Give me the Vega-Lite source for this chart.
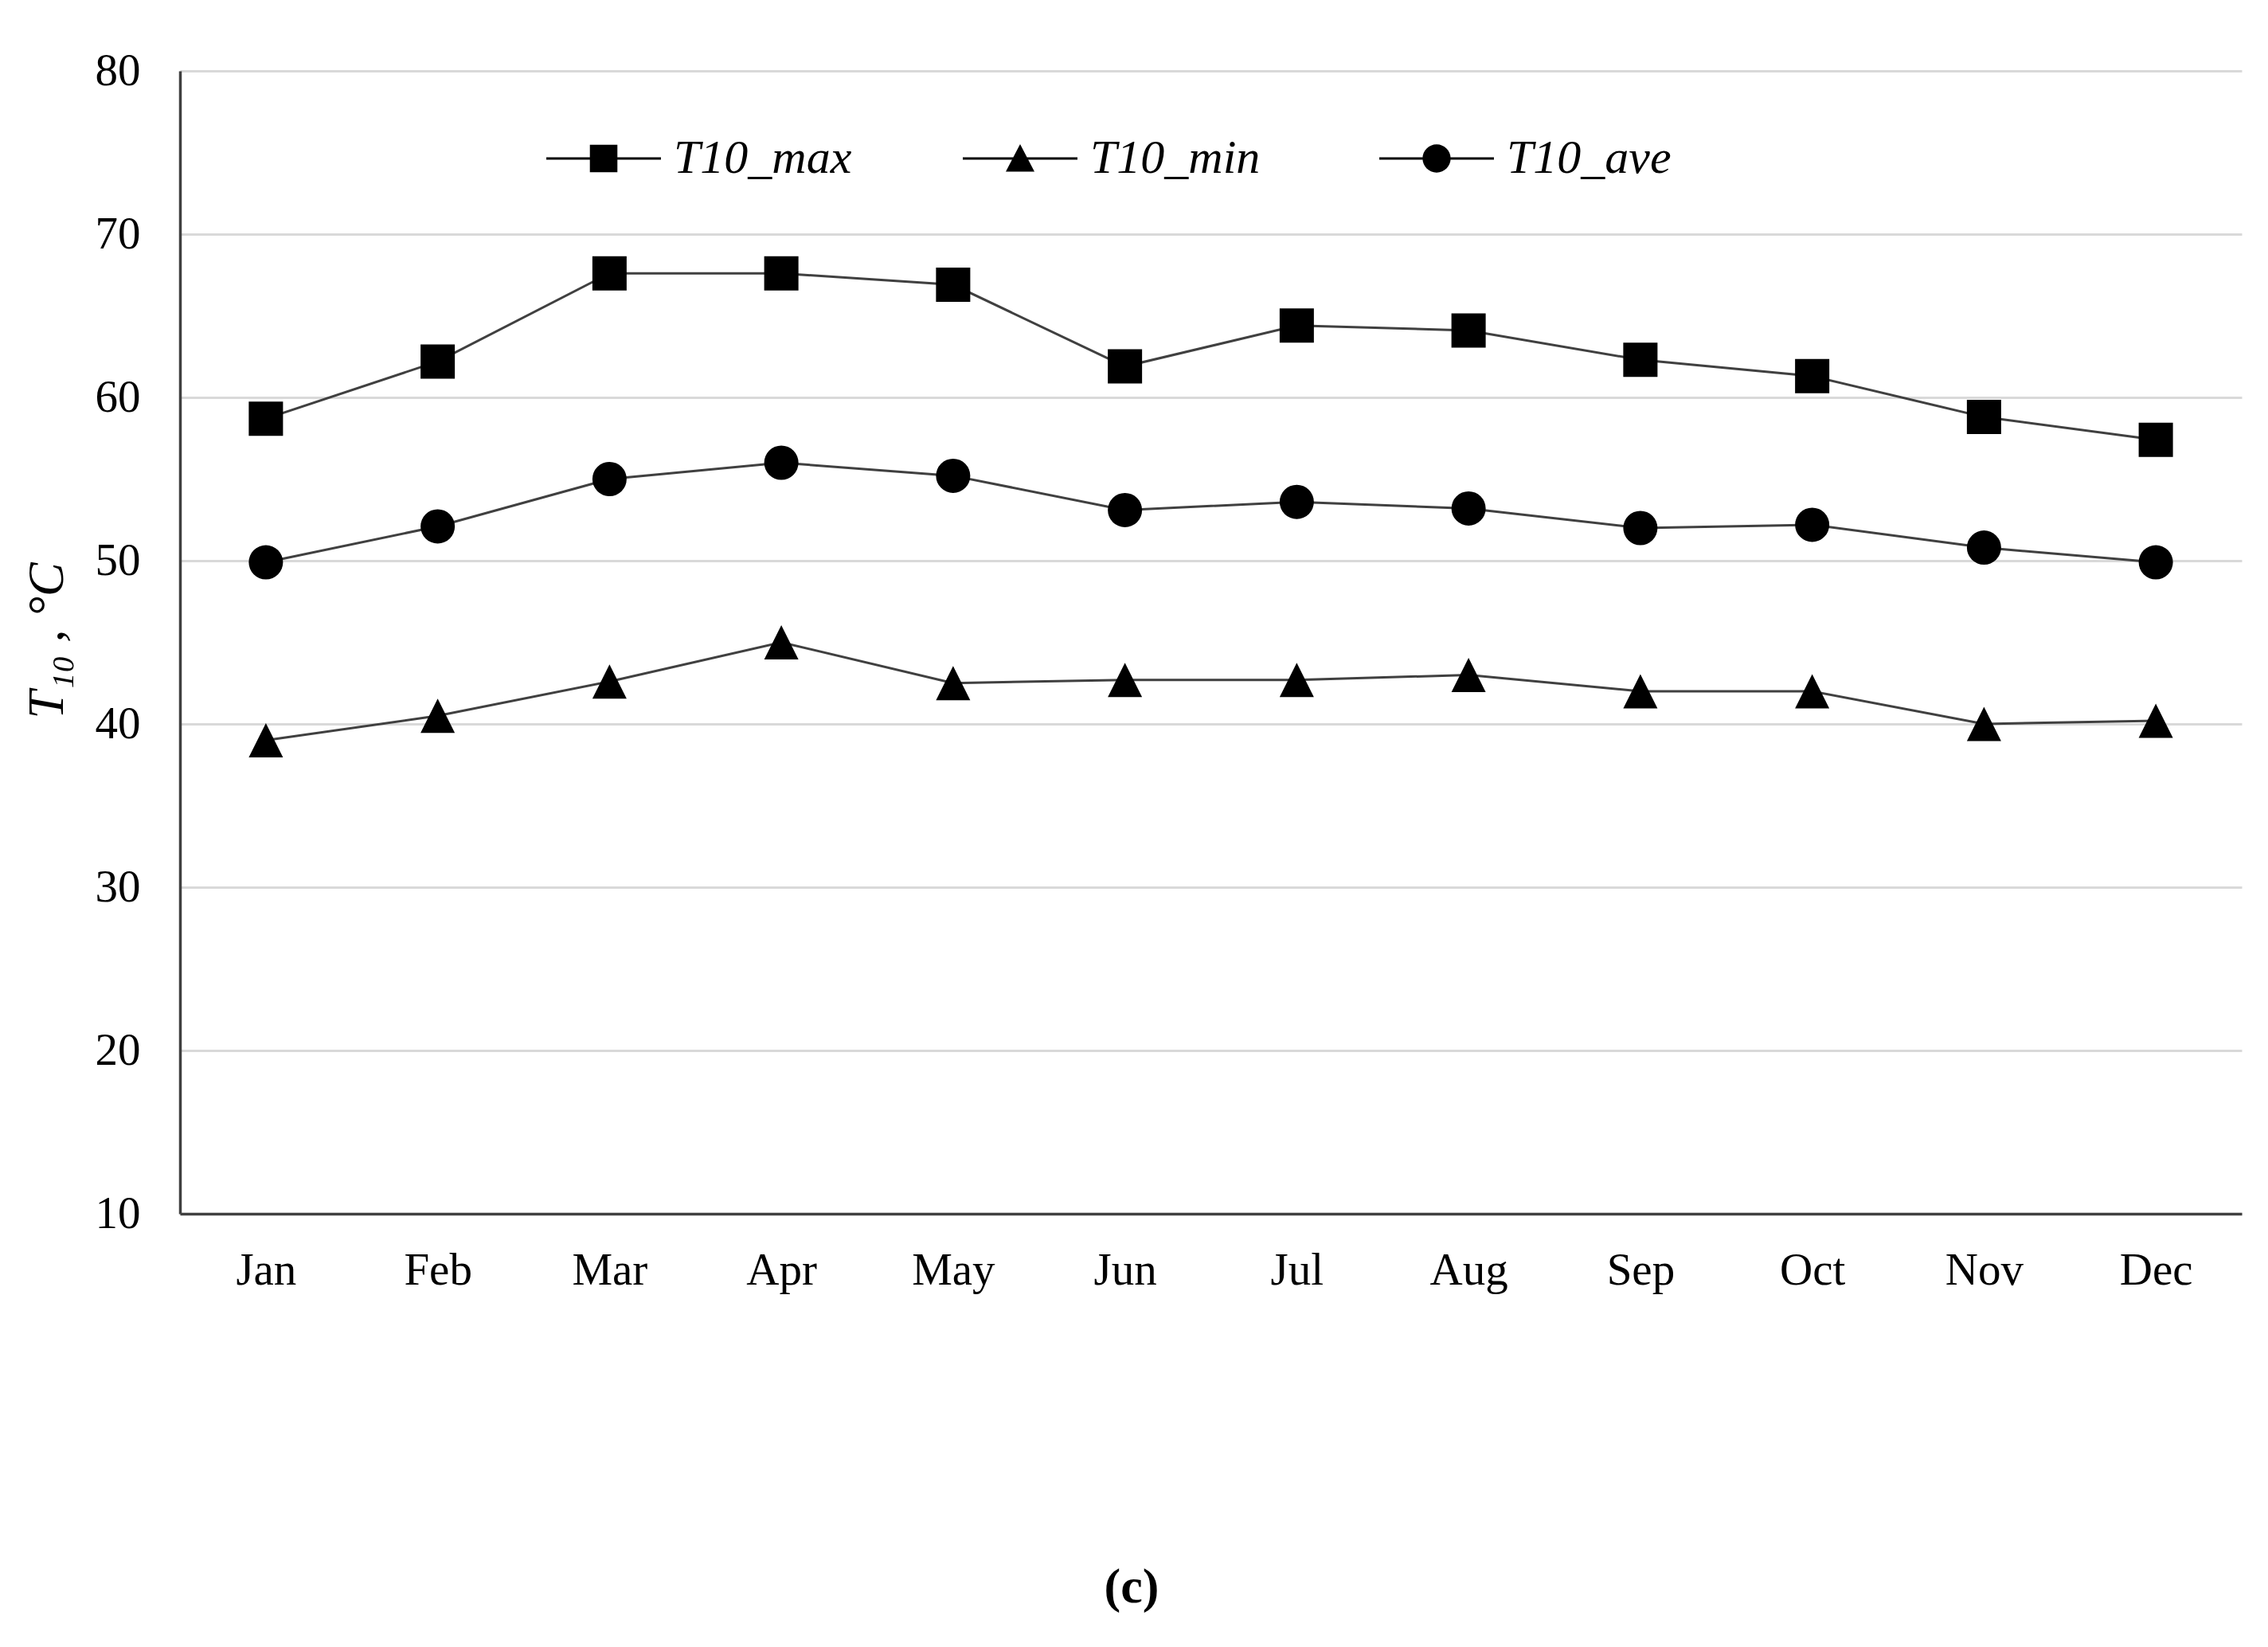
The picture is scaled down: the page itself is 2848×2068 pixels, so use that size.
{
  "$schema": "https://vega.github.io/schema/vega-lite/v6.json",
  "width": 2589,
  "height": 1435,
  "autosize": {"type": "none"},
  "padding": {"left": 226, "top": 89, "right": 33, "bottom": 544},
  "background": "white",
  "title": {
    "text": "(c)",
    "orient": "bottom",
    "anchor": "middle",
    "frame": "bounds",
    "font": "Liberation Serif",
    "fontSize": 62,
    "fontWeight": "bold",
    "color": "black",
    "offset": 340
  },
  "data": {
    "values": [
      {"month": "Jan", "series": "T10_max", "value": 58.7},
      {"month": "Feb", "series": "T10_max", "value": 62.2},
      {"month": "Mar", "series": "T10_max", "value": 67.6},
      {"month": "Apr", "series": "T10_max", "value": 67.6},
      {"month": "May", "series": "T10_max", "value": 66.9},
      {"month": "Jun", "series": "T10_max", "value": 61.9},
      {"month": "Jul", "series": "T10_max", "value": 64.4},
      {"month": "Aug", "series": "T10_max", "value": 64.1},
      {"month": "Sep", "series": "T10_max", "value": 62.3},
      {"month": "Oct", "series": "T10_max", "value": 61.3},
      {"month": "Nov", "series": "T10_max", "value": 58.8},
      {"month": "Dec", "series": "T10_max", "value": 57.4},
      {"month": "Jan", "series": "T10_min", "value": 39.0},
      {"month": "Feb", "series": "T10_min", "value": 40.5},
      {"month": "Mar", "series": "T10_min", "value": 42.6},
      {"month": "Apr", "series": "T10_min", "value": 45.0},
      {"month": "May", "series": "T10_min", "value": 42.5},
      {"month": "Jun", "series": "T10_min", "value": 42.7},
      {"month": "Jul", "series": "T10_min", "value": 42.7},
      {"month": "Aug", "series": "T10_min", "value": 43.0},
      {"month": "Sep", "series": "T10_min", "value": 42.0},
      {"month": "Oct", "series": "T10_min", "value": 42.0},
      {"month": "Nov", "series": "T10_min", "value": 40.0},
      {"month": "Dec", "series": "T10_min", "value": 40.2},
      {"month": "Jan", "series": "T10_ave", "value": 49.9},
      {"month": "Feb", "series": "T10_ave", "value": 52.1},
      {"month": "Mar", "series": "T10_ave", "value": 55.0},
      {"month": "Apr", "series": "T10_ave", "value": 56.0},
      {"month": "May", "series": "T10_ave", "value": 55.2},
      {"month": "Jun", "series": "T10_ave", "value": 53.1},
      {"month": "Jul", "series": "T10_ave", "value": 53.6},
      {"month": "Aug", "series": "T10_ave", "value": 53.2},
      {"month": "Sep", "series": "T10_ave", "value": 52.0},
      {"month": "Oct", "series": "T10_ave", "value": 52.2},
      {"month": "Nov", "series": "T10_ave", "value": 50.8},
      {"month": "Dec", "series": "T10_ave", "value": 49.9}
    ]
  },
  "encoding": {
    "x": {
      "field": "month",
      "type": "ordinal",
      "sort": ["Jan", "Feb", "Mar", "Apr", "May", "Jun", "Jul", "Aug", "Sep", "Oct", "Nov", "Dec"],
      "scale": {"type": "point", "padding": 0.5},
      "axis": {
        "title": null,
        "labelAngle": 0,
        "labelFont": "Liberation Serif",
        "labelFontSize": 57,
        "labelColor": "black",
        "labelPadding": 43,
        "ticks": false,
        "tickSize": 0,
        "grid": false,
        "domainColor": "#404040",
        "domainWidth": 3.5
      }
    },
    "y": {
      "field": "value",
      "type": "quantitative",
      "scale": {"domain": [10, 80], "nice": false, "zero": false},
      "axis": {
        "title": "T₁₀ , °C",
        "titleFont": "Liberation Serif",
        "titleFontSize": 64,
        "titleFontStyle": "italic",
        "titleFontWeight": "normal",
        "titleColor": "black",
        "titleAngle": 270,
        "titleAlign": "center",
        "titleBaseline": "alphabetic",
        "titleX": -148,
        "titleY": 715,
        "values": [10, 20, 30, 40, 50, 60, 70, 80],
        "labelFont": "Liberation Serif",
        "labelFontSize": 57,
        "labelColor": "black",
        "labelPadding": 50,
        "ticks": false,
        "tickSize": 0,
        "domainColor": "#404040",
        "domainWidth": 3.5,
        "gridColor": "#d9d9d9",
        "gridWidth": 3
      }
    }
  },
  "layer": [
    {
      "mark": {"type": "line", "color": "#404040", "strokeWidth": 3},
      "encoding": {"detail": {"field": "series", "type": "nominal"}}
    },
    {
      "mark": {"type": "point", "filled": true, "color": "black", "size": 1850, "opacity": 1},
      "encoding": {
        "shape": {
          "field": "series",
          "type": "nominal",
          "scale": {
            "domain": ["T10_max", "T10_min", "T10_ave"],
            "range": ["square", "M0,-1L1,1L-1,1Z", "circle"]
          },
          "legend": null
        }
      }
    },
    {
      "transform": [{"filter": "datum.value < 0"}],
      "mark": {"type": "point", "filled": true, "color": "black", "opacity": 1},
      "encoding": {
        "shape": {
          "field": "series",
          "type": "nominal",
          "scale": {
            "domain": ["T10_max", "T10_min", "T10_ave"],
            "range": [
              "M-1,-0.022H1V0.022H-1ZM-0.24,-0.24H0.24V0.24H-0.24Z",
              "M-1,-0.022H1V0.022H-1ZM0,-0.25L0.25,0.23L-0.25,0.23Z",
              "M-1,-0.022H1V0.022H-1ZM0.245,0A0.245,0.245,0,1,1,-0.245,0A0.245,0.245,0,1,1,0.245,0Z"
            ]
          },
          "legend": {
            "title": null,
            "orient": "none",
            "legendX": 460,
            "legendY": 38,
            "direction": "horizontal",
            "columns": 3,
            "gridAlign": "all",
            "padding": 0,
            "columnPadding": 139,
            "labelFont": "Liberation Serif",
            "labelFontStyle": "italic",
            "labelFontSize": 60,
            "labelColor": "black",
            "labelOffset": 16,
            "labelLimit": 600,
            "symbolSize": 20736,
            "symbolStrokeWidth": 0,
            "symbolFillColor": "black",
            "symbolOpacity": 1
          }
        }
      }
    }
  ],
  "resolve": {"scale": {"shape": "independent"}},
  "config": {
    "view": {"stroke": null}
  }
}
